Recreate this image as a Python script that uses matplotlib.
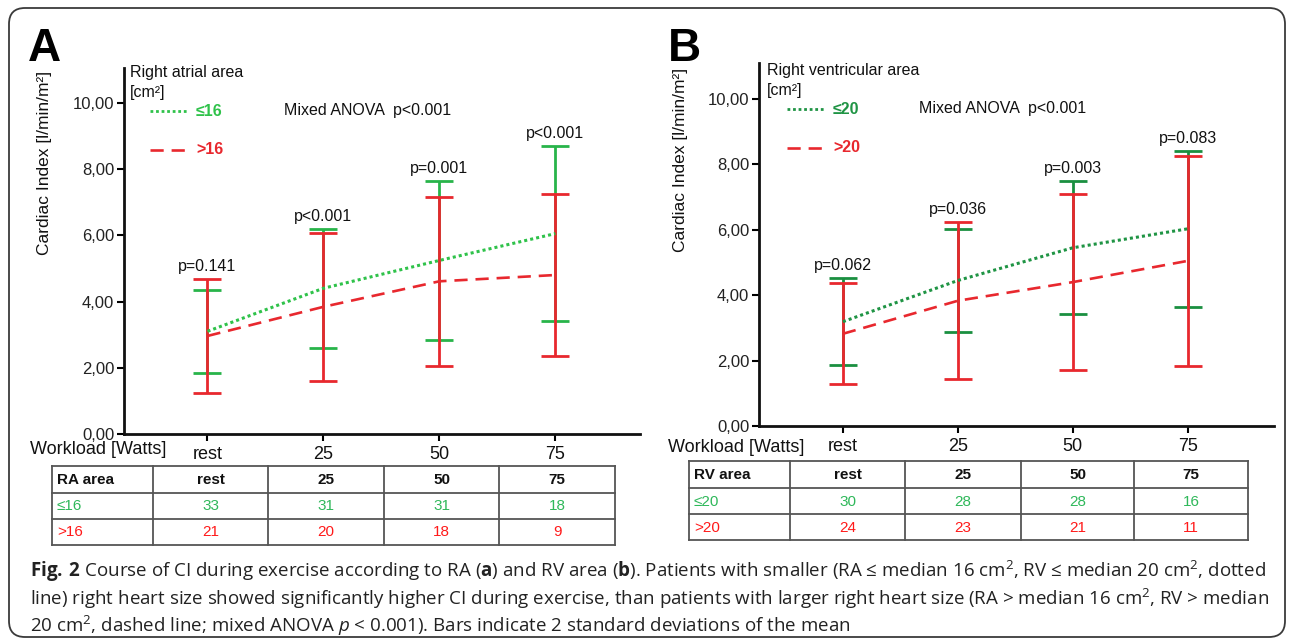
import matplotlib
matplotlib.use("Agg")
import matplotlib.pyplot as plt
from matplotlib import font_manager
from matplotlib.patches import FancyBboxPatch
import numpy as np

# ---------------- data ----------------
workloads = ["rest", "25", "50", "75"]

# Panel A: right atrial area
ra_small_mean = [3.10, 4.40, 5.24, 6.05]
ra_small_err = [1.25, 1.79, 2.39, 2.63]
ra_large_mean = [2.96, 3.84, 4.61, 4.80]
ra_large_err = [1.73, 2.24, 2.56, 2.45]
ra_pvals = ["p=0.141", "p<0.001", "p=0.001", "p<0.001"]
ra_n_small = [33, 31, 31, 18]
ra_n_large = [21, 20, 18, 9]

# Panel B: right ventricular area
rv_small_mean = [3.19, 4.45, 5.45, 6.03]
rv_small_err = [1.33, 1.57, 2.04, 2.39]
rv_large_mean = [2.82, 3.83, 4.40, 5.05]
rv_large_err = [1.54, 2.40, 2.69, 3.22]
rv_pvals = ["p=0.062", "p=0.036", "p=0.003", "p=0.083"]
rv_n_small = [30, 28, 28, 16]
rv_n_large = [24, 23, 21, 11]

yticks = [0, 2, 4, 6, 8, 10]

# ---------------- style ----------------
W, H = 1292, 643
fig = plt.figure(figsize=(W / 100, H / 100), dpi=100)
fig.patch.set_facecolor("white")

avail = {f.name for f in font_manager.fontManager.ttflist}
CH = "Liberation Sans" if "Liberation Sans" in avail else "DejaVu Sans"
CAP = "Open Sans" if "Open Sans" in avail else "DejaVu Sans"
plt.rcParams["mathtext.fontset"] = "custom"
plt.rcParams["mathtext.rm"] = CAP
plt.rcParams["mathtext.bf"] = CAP + ":bold"
plt.rcParams["mathtext.it"] = CAP + ":italic"

RED = "#e8282e"
TAB_GREEN = "#2fb85a"
TAB_RED = "#ff1a1a"

# overlay axes in pixel coordinates for layout elements
ov = fig.add_axes([0, 0, 1, 1], zorder=-1)
ov.set_xlim(0, W)
ov.set_ylim(H, 0)
ov.axis("off")

frame = FancyBboxPatch((9, 8), 1276, 629, boxstyle="round,pad=0,rounding_size=16",
                       fc="none", ec="#3a3a3a", lw=1.3)
ov.add_patch(frame)


def fx(px):
    return px / W


def fy(py):
    return 1 - py / H


def panel(left, right, top, bottom, xl, xr, ytop, means_s, errs_s, means_l, errs_l,
          pvals, green, dot_green):
    ax = fig.add_axes([fx(left), fy(bottom), fx(right) - fx(left), fy(top) - fy(bottom)])
    ax.set_facecolor("none")
    x = np.arange(len(workloads))
    ax.errorbar(x, means_s, yerr=errs_s, fmt="none", ecolor=green, elinewidth=2.0,
                capsize=10, capthick=2.0, zorder=2)
    ax.errorbar(x, means_l, yerr=errs_l, fmt="none", ecolor=RED, elinewidth=2.0,
                capsize=10, capthick=2.0, zorder=3)
    ax.plot(x, means_s, linestyle=(0, (1, 1)), color=dot_green, lw=2.2, zorder=4)
    ax.plot(x, means_l, linestyle=(0, (5, 3)), color=RED, lw=1.9, zorder=4)
    for xi, ms, es, ml, el, p in zip(x, means_s, errs_s, means_l, errs_l, pvals):
        top_v = max(ms + es, ml + el)
        ax.text(xi, top_v + 0.38, p, ha="center", va="center", fontsize=11.5,
                family=CH, color="#111111")
    ax.set_xlim(xl, xr)
    ax.set_ylim(0, ytop)
    ax.set_yticks(yticks)
    ax.set_yticklabels([f"{v:.2f}".replace(".", ",") for v in yticks], fontsize=12,
                       family=CH, color="#222222")
    ax.set_xticks(x)
    ax.set_xticklabels(workloads, fontsize=13, family=CH, color="#111111")
    for s in ["top", "right"]:
        ax.spines[s].set_visible(False)
    for s in ["left", "bottom"]:
        ax.spines[s].set_linewidth(2.0)
        ax.spines[s].set_color("#111111")
    ax.tick_params(axis="y", length=5, width=1.5, pad=2)
    ax.tick_params(axis="x", length=5, width=1.5, pad=3.5)
    return ax


axA = panel(124, 640, 68, 434, -0.72, 3.73, 11.05, ra_small_mean, ra_small_err,
            ra_large_mean, ra_large_err, ra_pvals, "#28b44a", "#2fc24a")
axB = panel(759, 1274, 63, 426, -0.73, 3.75, 11.1, rv_small_mean, rv_small_err,
            rv_large_mean, rv_large_err, rv_pvals, "#1a8f40", "#1f9444")

# panel letters
ov.text(28, 61, "A", fontsize=33, fontweight="bold", family=CH, va="baseline")
ov.text(668, 61, "B", fontsize=33, fontweight="bold", family=CH, va="baseline")

# y labels
ov.text(45, 163, "Cardiac Index [l/min/m²]", rotation=90, fontsize=12.5, family=CH,
        ha="center", va="center", color="#111111")
ov.text(681, 160, "Cardiac Index [l/min/m²]", rotation=90, fontsize=12.5, family=CH,
        ha="center", va="center", color="#111111")

# workload labels
ov.text(30, 449, "Workload [Watts]", fontsize=13, family=CH, va="center", color="#111111")
ov.text(668, 447, "Workload [Watts]", fontsize=13, family=CH, va="center", color="#111111")


def legend(x0, y0, title, small, large, g, anova_x):
    ov.text(x0, y0, title, fontsize=11.5, family=CH, va="center", color="#111111")
    ov.text(x0, y0 + 21, "[cm²]", fontsize=11.5, family=CH, va="center", color="#111111")
    ov.plot([x0 + 20, x0 + 58], [y0 + 39, y0 + 39], linestyle=(0, (1, 1)), color=g, lw=2.0)
    ov.text(x0 + 66, y0 + 39, small, fontsize=11.5, fontweight="bold", family=CH,
            va="center", color=g)
    ov.plot([x0 + 20, x0 + 58], [y0 + 78, y0 + 78], linestyle=(0, (5, 3)), color=RED, lw=1.9)
    ov.text(x0 + 66, y0 + 78, large, fontsize=11.5, fontweight="bold", family=CH,
            va="center", color=RED)
    ov.text(anova_x, y0 + 39, "Mixed ANOVA  p<0.001", fontsize=11.5, family=CH,
            va="center", color="#111111")


legend(130, 72, "Right atrial area", "≤16", ">16", "#2fc24a", 284)
legend(767, 70, "Right ventricular area", "≤20", ">20", "#1f9444", 919)


# tables
def table(xs, ys, label, small_lab, large_lab, n_small, n_large):
    for xv in xs:
        ov.plot([xv, xv], [ys[0], ys[-1]], color="#555555", lw=1.3)
    for yv in ys:
        ov.plot([xs[0], xs[-1]], [yv, yv], color="#555555", lw=1.3)
    rows = [
        ([label] + workloads, "#111111", "bold"),
        ([small_lab] + [str(v) for v in n_small], TAB_GREEN, "normal"),
        ([large_lab] + [str(v) for v in n_large], TAB_RED, "normal"),
    ]
    for r, (cells, col, wt) in enumerate(rows):
        yc = (ys[r] + ys[r + 1]) / 2 + 0.5
        for c, txt in enumerate(cells):
            if c == 0:
                ov.text(xs[0] + 5, yc, txt, fontsize=11, family=CH, fontweight=wt,
                        color=col, va="center", ha="left")
            else:
                ov.text((xs[c] + xs[c + 1]) / 2, yc, txt, fontsize=11, family=CH,
                        fontweight=wt, color=col, va="center", ha="center")


table([52, 153, 268, 384, 499, 615], [466, 493, 519, 545], "RA area", "≤16", ">16",
      ra_n_small, ra_n_large)
table([689, 790, 905, 1021, 1134, 1248], [461, 488, 514, 540], "RV area", "≤20", ">20",
      rv_n_small, rv_n_large)

# caption
cap_lines = [
    r"$\mathbf{Fig.\:2}$ Course of CI during exercise according to RA ($\mathbf{a}$) and RV area "
    r"($\mathbf{b}$). Patients with smaller (RA ≤ median 16 cm$^2$, RV ≤ median 20 cm$^2$, dotted",
    r"line) right heart size showed significantly higher CI during exercise, than patients with "
    r"larger right heart size (RA > median 16 cm$^2$, RV > median",
    r"20 cm$^2$, dashed line; mixed ANOVA $p$ < 0.001). Bars indicate 2 standard deviations of the mean",
]
cap_y = [577, 605, 632]
renderer = fig.canvas.get_renderer()
t0 = ov.text(30, cap_y[0], cap_lines[0], fontsize=13, family=CAP, va="baseline", color="#222222")
wpx = t0.get_window_extent(renderer).width
size = 13 * (1235 / wpx)
t0.set_fontsize(size)
for line, yy in zip(cap_lines[1:], cap_y[1:]):
    ov.text(30, yy, line, fontsize=size, family=CAP, va="baseline", color="#222222")

fig.savefig("out.png", dpi=100)
